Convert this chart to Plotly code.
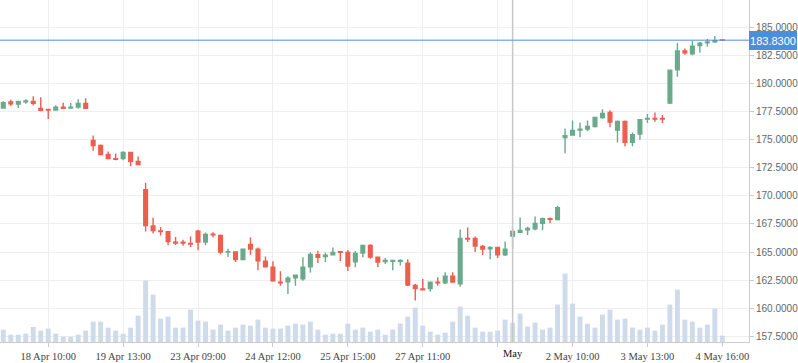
import plotly.graph_objects as go

# ---- data ----
open_ = [177.80, 178.33, 178.15, 178.36, 178.39, 177.77, 177.68, 177.62, 177.86, 177.80,
         177.89, 178.21, 174.91, 174.46, 173.66, 173.30, 173.30, 173.84, 173.04, 170.54,
         167.32, 166.87, 166.81, 165.86, 165.86, 165.76, 166.85, 165.88, 166.59, 166.47,
         165.00, 165.00, 164.32, 165.68, 165.24, 164.18, 163.65, 162.32, 162.35, 162.71,
         162.62, 163.68, 164.76, 164.59, 164.74, 165.03, 164.97, 164.12, 164.91, 165.59,
         164.53, 164.15, 164.18, 164.18, 164.00, 162.03, 161.71, 161.74, 162.32, 162.26,
         162.85, 162.18, 166.21, 166.21, 165.50, 165.29, 165.41, 164.74, 166.41, 166.76,
         166.97, 167.06, 167.56, 167.97, 167.88, 175.18, 175.39, 175.83, 175.92, 176.16,
         176.96, 177.41, 175.83, 176.61, 174.76, 175.48, 176.82, 176.88, 176.88, 178.24,
         181.19, 182.86, 182.62, 183.36, 183.60, 183.69, 183.84]
high = [178.39, 178.54, 178.39, 178.57, 178.84, 178.75, 177.68, 178.04, 178.27, 178.24,
        178.57, 178.66, 175.36, 174.55, 173.93, 173.75, 173.96, 173.84, 173.48, 171.16,
        168.04, 167.23, 166.87, 166.34, 166.09, 166.38, 166.97, 166.74, 166.76, 166.56,
        165.29, 165.06, 165.24, 166.29, 165.41, 164.59, 164.18, 163.29, 162.85, 163.00,
        164.53, 164.97, 165.12, 164.94, 165.41, 165.03, 165.18, 165.09, 165.59, 165.68,
        164.56, 164.47, 164.32, 164.35, 164.35, 162.15, 162.59, 162.32, 162.76, 163.21,
        163.21, 167.00, 167.18, 166.38, 165.62, 165.50, 165.41, 165.94, 167.06, 168.06,
        167.24, 168.15, 168.06, 168.06, 169.12, 175.98, 176.70, 176.52, 176.70, 176.96,
        177.68, 177.59, 176.70, 176.70, 175.63, 176.76, 177.26, 177.41, 177.17, 181.16,
        183.57, 183.10, 183.78, 183.66, 183.93, 184.20, 183.84]
low = [177.80, 177.98, 177.80, 178.18, 178.04, 177.50, 176.82, 177.62, 177.71, 177.80,
       177.74, 177.71, 174.00, 173.57, 173.24, 173.15, 173.15, 172.62, 172.71, 166.82,
       166.64, 166.46, 165.60, 165.63, 165.55, 165.44, 165.15, 165.59, 166.32, 164.79,
       164.56, 164.12, 164.26, 164.76, 163.38, 163.68, 162.35, 162.00, 161.26, 162.00,
       162.44, 163.18, 164.03, 164.12, 164.68, 164.21, 163.32, 163.65, 164.53, 164.41,
       163.66, 163.94, 163.38, 163.79, 161.97, 160.68, 161.62, 161.47, 162.00, 162.15,
       162.26, 161.91, 165.88, 165.00, 164.74, 164.35, 164.47, 164.65, 165.26, 166.76,
       166.50, 166.94, 166.94, 167.56, 167.79, 173.78, 175.33, 175.21, 175.74, 176.07,
       176.82, 176.10, 174.73, 174.40, 174.40, 174.97, 176.46, 176.58, 176.46, 178.15,
       180.57, 182.53, 182.50, 182.71, 183.24, 183.57, 183.83]
close = [178.27, 178.18, 178.39, 178.42, 178.21, 177.59, 177.62, 177.86, 177.77, 177.86,
         178.21, 177.77, 174.46, 173.66, 173.30, 173.24, 173.84, 173.04, 172.77, 167.35,
         166.90, 166.81, 165.92, 165.80, 165.80, 165.71, 165.88, 166.56, 166.53, 165.00,
         165.03, 164.32, 165.24, 165.26, 164.21, 163.68, 162.44, 162.26, 162.68, 162.94,
         163.65, 164.79, 164.53, 164.71, 164.97, 164.97, 163.76, 164.88, 165.59, 164.56,
         164.10, 164.24, 164.24, 164.26, 162.06, 161.74, 161.65, 162.32, 162.26, 162.85,
         162.32, 166.21, 166.15, 165.53, 165.26, 165.41, 164.74, 165.24, 166.82, 166.91,
         167.09, 167.53, 167.97, 167.91, 168.94, 175.33, 175.80, 175.92, 176.16, 176.96,
         177.32, 176.55, 176.61, 174.76, 175.42, 176.76, 176.88, 176.82, 176.82, 181.16,
         182.86, 182.71, 183.30, 183.57, 183.66, 183.78, 183.83]
volume = [3700, 2200, 2200, 2500, 4500, 3400, 4000, 2500, 1600, 1600,
          2200, 3400, 6100, 6100, 4300, 3400, 2500, 4300, 7900, 18400,
          14200, 7000, 7600, 4300, 4300, 9700, 6400, 6100, 3700, 5200,
          3400, 4300, 5200, 4900, 6700, 4300, 4000, 4000, 4900, 5500,
          5200, 6100, 3700, 2200, 2500, 2500, 5500, 3700, 4300, 3100,
          3700, 2200, 3700, 5500, 7600, 10300, 4900, 3100, 2200, 2800,
          6100, 10600, 7900, 4300, 3100, 3100, 3400, 6700, 5800, 8500,
          4600, 5800, 3700, 4300, 11200, 20500, 11500, 7600, 5500, 4300,
          8200, 9700, 6700, 7000, 4300, 3700, 4300, 3400, 5200, 11200,
          15700, 6700, 6100, 4300, 5200, 10000, 1900]
bar_index = list(range(len(close)))
tick_index = [6, 16, 26, 36, 46, 56, 66, 76, 86, 96]
tick_labels = ["18 Apr 10:00", "19 Apr 13:00", "23 Apr 09:00", "24 Apr 12:00",
               "25 Apr 15:00", "27 Apr 11:00", "", "2 May 10:00", "3 May 13:00",
               "4 May 16:00"]
crosshair_index = 68
crosshair_label = "May"
last_price = 183.83

GREEN = "#6aaa8c"
RED = "#ec5f50"
BLUE = "#4a8fdb"

fig = go.Figure()
fig.add_trace(go.Bar(
    x=bar_index, y=volume, yaxis="y", width=0.66,
    marker=dict(color="#cfdbeb", line=dict(width=0)),
    hoverinfo="skip", showlegend=False,
))
fig.add_trace(go.Candlestick(
    x=bar_index, open=open_, high=high, low=low, close=close, yaxis="y2",
    increasing=dict(line=dict(color=GREEN, width=1.4), fillcolor=GREEN),
    decreasing=dict(line=dict(color=RED, width=1.4), fillcolor=RED),
    whiskerwidth=0, showlegend=False,
))

fig.update_layout(
    width=798, height=363,
    margin=dict(l=0, r=49, t=0, b=21),
    paper_bgcolor="white", plot_bgcolor="white",
    showlegend=False,
    xaxis=dict(
        range=[-0.44, 99.56], tickmode="array", tickvals=tick_index, ticktext=tick_labels,
        showgrid=True, gridcolor="#eeeeee", gridwidth=1, zeroline=False,
        showline=True, linecolor="#cccccc", linewidth=1,
        ticks="outside", ticklen=4, tickcolor="#cccccc",
        tickfont=dict(family="Liberation Serif", size=10.5, color="#444444"),
        rangeslider=dict(visible=False),
    ),
    yaxis=dict(range=[0, max(volume) * 5], visible=False, showgrid=False, fixedrange=True),
    yaxis2=dict(
        overlaying="y", side="right", range=[157.0, 187.4],
        tick0=157.5, dtick=2.5, tickformat=".4f",
        showgrid=True, gridcolor="#eeeeee", gridwidth=1, zeroline=False,
        showline=True, linecolor="#cccccc", linewidth=1,
        ticks="outside", ticklen=4, tickcolor="#cccccc",
        tickfont=dict(family="Liberation Sans", size=10, color="#666666"),
    ),
    shapes=[
        dict(type="line", xref="x", yref="paper", x0=crosshair_index, x1=crosshair_index,
             y0=0, y1=1, line=dict(color="#c8c8c8", width=1.5), layer="above"),
        dict(type="line", xref="paper", yref="y2", x0=0, x1=1, y0=last_price, y1=last_price,
             line=dict(color=BLUE, width=1), layer="above"),
    ],
    annotations=[
        dict(xref="paper", yref="y2", x=1, y=last_price, xanchor="left", yanchor="middle",
             xshift=0, text=f"{last_price:.4f}", showarrow=False, bgcolor=BLUE,
             bordercolor=BLUE, borderpad=0, borderwidth=1, width=46, height=17,
             align="center",
             font=dict(family="Liberation Sans", size=11, color="white")),
        dict(xref="x", yref="paper", x=crosshair_index, y=0, xanchor="center", yanchor="top",
             yshift=-4, text=crosshair_label, showarrow=False,
             font=dict(family="Liberation Serif", size=10.5, color="#111111")),
    ],
)

fig.write_html(
    "out.html",
    config={"displayModeBar": False},
    post_script="document.body.style.margin='0';document.body.style.padding='0';",
)
